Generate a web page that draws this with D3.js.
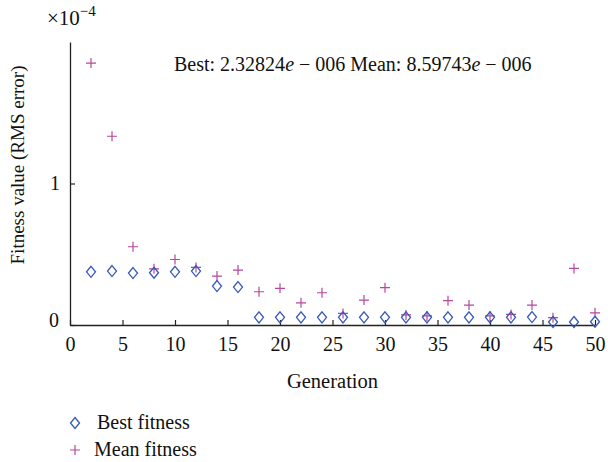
<!DOCTYPE html>
<html>
<head>
<meta charset="utf-8">
<script src="https://cdn.jsdelivr.net/npm/d3@7"></script>
<style>
  body { margin: 0; background: #fff; }
  svg { display: block; }
  text { font-family: "Liberation Serif", "DejaVu Serif", serif; fill: #111; }
</style>
</head>
<body>
<svg id="chart" width="608" height="462"></svg>
<script>
// generations (every 2nd)
const generations = d3.range(2, 51, 2);
// values in units of 1e-4
const bestFitness = [0.376, 0.381, 0.367, 0.369, 0.376, 0.381, 0.275, 0.268, 0.054, 0.054,
  0.054, 0.054, 0.054, 0.054, 0.054, 0.054, 0.054, 0.054, 0.054, 0.054,
  0.054, 0.056, 0.021, 0.021, 0.023];
const meanFitness = [1.851, 1.334, 0.553, 0.397, 0.463, 0.407, 0.346, 0.388, 0.235, 0.259,
  0.157, 0.228, 0.082, 0.176, 0.264, 0.071, 0.064, 0.172, 0.141, 0.064,
  0.075, 0.141, 0.052, 0.400, 0.086];
const xTicks = [0, 5, 10, 15, 20, 25, 30, 35, 40, 45, 50];
const yTicks = [0, 1];

const blue = "#3557b8", pink = "#b8469e";

const svg = d3.select("#chart");
const x = d3.scaleLinear().domain([0, 50]).range([70, 595]);
const y = d3.scaleLinear().domain([0, 2]).range([325, 42]);

// axes
const xAxis = svg.append("g")
    .attr("transform", `translate(0,${y(0)})`)
    .call(d3.axisBottom(x).tickValues(xTicks).tickFormat(d3.format("d"))
      .tickSize(-5).tickPadding(13).tickSizeOuter(0));
const yAxis = svg.append("g")
    .attr("transform", `translate(${x(0)},0)`)
    .call(d3.axisLeft(y).tickValues(yTicks).tickFormat(d3.format("d"))
      .tickSize(-5).tickPadding(10).tickSizeOuter(0));
[xAxis, yAxis].forEach(g => {
  g.select(".domain").attr("stroke", "#222").attr("stroke-width", 1.3);
  g.selectAll(".tick line").attr("stroke", "#222").attr("stroke-width", 1.2);
  g.selectAll(".tick text").attr("font-family", "Liberation Serif").attr("font-size", 20).attr("fill", "#111");
});
xAxis.selectAll(".tick text").attr("dy", "0.66em");
yAxis.selectAll(".tick").filter(d => d === 0).select("text").attr("dx", -1).attr("dy", "0.05em");

// exponent
const ex = svg.append("text").attr("x", 47).attr("y", 25).attr("font-size", 21);
ex.append("tspan").text("×10");
ex.append("tspan").attr("dy", -9).attr("font-size", 15).text("−4");

// axis labels
svg.append("text").attr("x", x(25)).attr("y", 388)
    .attr("text-anchor", "middle").attr("font-size", 20.5).text("Generation");
svg.append("text").attr("transform", `translate(24,${165}) rotate(-90)`)
    .attr("text-anchor", "middle").attr("font-size", 19).text("Fitness value (RMS error)");

// annotation
const ann = svg.append("text").attr("x", 174).attr("y", 71).attr("font-size", 20);
ann.append("tspan").text("Best: 2.32824");
ann.append("tspan").attr("font-style", "italic").text("e");
ann.append("tspan").text(" − 006 Mean: 8.59743");
ann.append("tspan").attr("font-style", "italic").text("e");
ann.append("tspan").text(" − 006");

// markers
const diamond = (cx, cy) => `M${cx},${cy - 5.5}L${cx + 4.5},${cy}L${cx},${cy + 5.5}L${cx - 4.5},${cy}Z`;
const plus = (cx, cy) => `M${cx - 5},${cy}H${cx + 5}M${cx},${cy - 5}V${cy + 5}`;

svg.append("g").selectAll("path")
  .data(generations.map((g, i) => [g, meanFitness[i]]))
  .join("path")
    .attr("d", d => plus(x(d[0]), y(d[1])))
    .attr("stroke", pink).attr("stroke-width", 1.2).attr("fill", "none");

svg.append("g").selectAll("path")
  .data(generations.map((g, i) => [g, bestFitness[i]]))
  .join("path")
    .attr("d", d => diamond(x(d[0]), y(d[1])))
    .attr("stroke", blue).attr("stroke-width", 1.3).attr("fill", "none");

// legend
const legend = svg.append("g");
legend.append("path").attr("d", diamond(75, 423)).attr("stroke", blue).attr("stroke-width", 1.3).attr("fill", "none");
legend.append("text").attr("x", 97).attr("y", 429).attr("font-size", 20).text("Best fitness");
legend.append("path").attr("d", plus(75, 450)).attr("stroke", pink).attr("stroke-width", 1.2).attr("fill", "none");
legend.append("text").attr("x", 94).attr("y", 456).attr("font-size", 20).text("Mean fitness");
</script>
</body>
</html>
